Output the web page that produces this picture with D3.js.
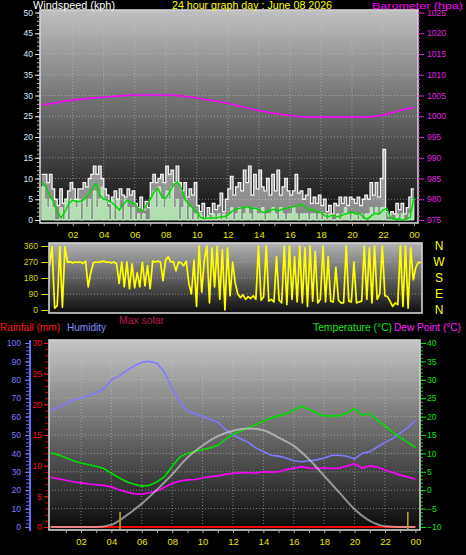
<!DOCTYPE html>
<html><head><meta charset="utf-8">
<script src="https://cdn.jsdelivr.net/npm/d3@7"></script>
<style>
html,body{margin:0;padding:0;background:#000;}
svg{display:block;font-family:"Liberation Sans",Arial,sans-serif;}
</style></head><body>
<svg id="c" width="466" height="555"></svg>
<script>
// ---------- DATA ----------
const hourTicks = [2,4,6,8,10,12,14,16,18,20,22,24];
const hourLabels = ["02","04","06","08","10","12","14","16","18","20","22","00"];
const windTicks = [0,5,10,15,20,25,30,35,40,45,50];
const baroTicks = [975,980,985,990,995,1000,1005,1010,1015,1020,1025];
const dirTicks = [0,90,180,270,360];
const compassLabels = ["N","E","S","W","N"];
const humTicks = [0,10,20,30,40,50,60,70,80,90,100];
const rainTicks = [0,5,10,15,20,25,30];
const tempTicks = [-10,-5,0,5,10,15,20,25,30,35,40];

// wind gust (kph), 10-minute samples
const gust = [
 11,11,9,11,7.5,5, 3.5,7.5,4,5,7,9, 7.5,5,7.5,7.5,9,8, 10,11,13,11,13,10,
 7.5,6,4,5.5,7,5, 7.5,6,5.5,7.5,6,7, 4,3,5.5,2.5,4.5,3, 9,11,9,10,11,9,
 13,11,12,9,13,9, 7,9,5.5,7.5,6,9, 3.5,2,4,0.5,3,1.5, 4,2.5,3.5,6.5,2,5,
 7.5,10.5,6,8,9,7, 12,9,13,6,11,7.5, 12,8,7,10,6,11, 7,12,6,8,10,7,
 6,7,11,6.5,7,5, 6,7.5,4,5.5,4,6, 3.5,5,2,3.5,1.5,4, 3.5,5.5,4,5.5,3.5,5.5,
 5,4,5.5,3.5,5,6, 5,9,6,9,5.5,10, 17,2,1,2,1.5,4, 2.5,4,1.5,3,5.5,7.5
];
// wind speed (kph), 10-minute samples
const speed = [
 8,5,3,5,3,0, 0,3,0,5,0,5, 5,3,5,0,5,3, 5,0,7,3,5,8,
 5,3,0,5,0,5, 3,0,5,3,0,3, 0,1.5,0,1.5,0,0, 5,7,3,8,5,3,
 7,5,8,3,5,0, 3,5,0,3,0,1.5, 0,1.5,0,0,1,0, 1.5,0,1.5,0,1.5,0,
 1.5,3,0,1.5,3,0, 1.5,3,1.5,0,3,1.5, 1.5,3,0,1.5,1.5,3, 1.5,0,3,1.5,0,1.5,
 1.5,3,1.5,0,1.5,1.5, 1.5,0,1.5,1.5,0,1.5, 0,1.5,0,1.5,0,0, 1.5,0,1.5,3,1.5,0,
 1.5,1.5,0,1.5,0,1.5, 1.5,3,1.5,3,1.5,3, 3,0,0,0,0,1.5, 0,1.5,0,0,1.5,5
];
// average wind (kph), 15-minute samples
const avgWind = [
 9.0,8.2,6.0,4.5, 2.0,0.5,2.0,4.0, 4.8,4.4,4.5,5.0, 6.0,7.5,8.8,6.0,
 5.0,4.8,4.2,3.5, 2.4,3.6,4.8,4.2, 4.0,2.5,2.2,3.6, 5.0,6.8,7.6,5.5,
 5.2,6.8,8.5,9.2, 7.6,4.8,3.8,2.8, 2.0,0.6,0.4,0.5, 0.5,0.4,0.8,0.8,
 1.2,2.0,2.6,2.8, 3.0,3.2,2.8,2.9, 2.5,1.8,2.0,2.4, 2.6,2.2,2.6,2.8,
 3.0,3.2,3.5,3.8, 3.0,2.4,2.6,2.0, 1.8,1.0,0.8,1.2, 0.8,0.9,1.4,1.6,
 2.0,1.4,1.6,0.6, 0.2,1.0,1.6,1.4, 2.4,2.8,0.4,0.2, 0.3,0.0,0.2,0.6, 5.5
];
// barometer (hPa), hourly
const pressure = [1002.7,1003.3,1003.9,1004.3,1004.6,1004.9,1005.1,1005.1,1005.1,1004.9,1004.4,1003.8,
 1003.1,1002.2,1001.4,1000.7,1000.2,999.8,999.8,999.8,999.8,999.8,1000.3,1001.3,1002.1];
// wind direction (deg), 10-minute samples
const direction = [
 250,355,10,25,355,15, 355,268,272,265,270,268, 270,262,275,130,210,265, 270,268,272,275,268,270,
 265,270,260,150,270,130, 270,120,260,125,210,130, 270,135,250,120,275,270, 275,270,165,280,300,270,
 272,220,270,265,250,275, 150,90,280,20,360,100, 280,360,40,350,130,360, 60,340,0,350,80,270,
 150,90,70,85,60,75, 65,80,60,360,55,75, 360,50,60,45,300,55, 40,360,30,360,60,300,
 45,360,40,350,20,360, 50,330,40,60,360,45, 300,50,45,240,55,40, 40,360,50,45,270,40,
 45,50,360,60,350,40, 360,60,90,360,80,75, 50,20,40,30,360,20, 360,10,350,170,240,270, 265
];
// half-hourly
const humidity = [63,65,67,69,70,71.5,73,75,80,82,85,87.5,89.5,90,89,84,75,68,63,61.5,60,58.5,57,53,
 50,48,46,43,41,39,38.5,37.5,36,35.5,36,36.5,37.5,39,39,38.5,37,40,41,43.5,46,48,51,54,58];
const temperature = [10.2,9.6,8.8,8.0,7.4,6.9,6.5,5.9,4.6,3.4,2.3,1.6,1.1,1.3,2.3,3.7,6.5,9.0,10.0,10.5,
 11.0,11.5,12.2,13.8,15.2,16.0,17.0,17.8,18.8,19.6,20.2,20.8,21.8,22.8,22.0,21.0,20.2,20.2,20.2,21.0,
 22.2,20.4,20.9,19.0,17.5,15.8,14.3,13.0,11.6];
const dewPoint = [3.5,3.1,2.7,2.3,2.0,1.7,1.5,1.3,0.9,0.1,-0.5,-1.0,-1.1,-0.7,-0.2,0.8,1.8,2.5,2.8,2.9,
 3.3,3.7,3.9,4.3,4.6,4.7,4.8,4.6,5.0,4.9,5.0,5.6,6.0,6.4,6.0,5.9,6.1,5.9,6.0,6.6,7.2,6.0,6.6,6.3,
 5.5,4.8,4.1,3.6,3.0];
// hourly
const maxSolar = [0,0,0,0,12,63,127,203,286,377,443,494,523,536,526,486,441,368,278,187,96,33,4,0,0];
const rainfall = [0,0,0,0,0,0,0,0,0,0,0,0,0,0,0,0,0,0,0,0,0,0,0,0,0];
const markerHours = [4.57, 23.5];

// ---------- SCALES ----------
const svg = d3.select("#c");
const xTop = d3.scaleLinear([0,24],[41.7,414]);
const yWind = d3.scaleLinear([0,50],[220,12.5]);
const yBaro = d3.scaleLinear([975,1025],[220,12.5]);
const xDir = d3.scaleLinear([0,24],[49.5,421]);
const yDir = d3.scaleLinear([0,360],[310,246]);
const xBot = d3.scaleLinear([0,24],[50.6,415.4]);
const yHum = d3.scaleLinear([0,100],[527,343]);
const yRain = d3.scaleLinear([0,30],[527,343]);
const yTemp = d3.scaleLinear([-10,40],[527,343]);
const ySolar = d3.scaleLinear([0,1000],[527,343]);

// ---------- DEFS ----------
const defs = svg.append("defs");
function grad(id, c0, c1){
  const g = defs.append("linearGradient").attr("id",id).attr("x1",0).attr("y1",0).attr("x2",0).attr("y2",1);
  g.append("stop").attr("offset","0%").attr("stop-color",c0);
  g.append("stop").attr("offset","100%").attr("stop-color",c1);
}
grad("gTop","#c0c0c0","#0a0a0a");
grad("gDir","#b4b4b4","#0e0e0e");
grad("gBot","#c6c6c6","#0a0a0a");
const panels = {
  top:{x0:40,x1:418,y0:10,y1:223,g:"gTop"},
  dir:{x0:49,x1:422,y0:243,y1:313,g:"gDir"},
  bot:{x0:49,x1:420,y0:340,y1:530,g:"gBot"}
};
Object.entries(panels).forEach(([k,p])=>{
  defs.append("clipPath").attr("id","clip-"+k).append("rect")
    .attr("x",p.x0+1).attr("y",p.y0+1).attr("width",p.x1-p.x0-2).attr("height",p.y1-p.y0-2);
  svg.append("rect").attr("x",p.x0).attr("y",p.y0).attr("width",p.x1-p.x0).attr("height",p.y1-p.y0)
    .attr("fill","url(#"+p.g+")");
});

// ---------- GRIDS ----------
function hgrid(p, ys){
  svg.append("g").selectAll("line").data(ys).join("line")
    .attr("x1",p.x0).attr("x2",p.x1).attr("y1",d=>d).attr("y2",d=>d)
    .attr("stroke","#c8c8c8").attr("stroke-opacity",0.55).attr("stroke-dasharray","1,2");
}
function vgrid(p, xs){
  svg.append("g").selectAll("line").data(xs).join("line")
    .attr("y1",p.y0).attr("y2",p.y1).attr("x1",d=>d).attr("x2",d=>d)
    .attr("stroke","#c8c8c8").attr("stroke-opacity",0.55).attr("stroke-dasharray","1,2");
}
hgrid(panels.top, windTicks.slice(1,-1).map(yWind));
vgrid(panels.top, hourTicks.slice(0,-1).map(xTop));
hgrid(panels.dir, dirTicks.slice(1,-1).map(yDir));
hgrid(panels.bot, humTicks.slice(1,-1).map(yHum));
vgrid(panels.bot, hourTicks.slice(0,-1).map(xBot));

// ---------- TOP PANEL DATA ----------
const gTopData = svg.append("g").attr("clip-path","url(#clip-top)");
const tGust = d3.range(gust.length+1).map(i=>({t:i/6, v:gust[Math.min(i,gust.length-1)]}));
const tSpeed = d3.range(speed.length+1).map(i=>({t:i/6, v:speed[Math.min(i,speed.length-1)]}));
gTopData.append("path").datum(tGust)
  .attr("d", d3.area().curve(d3.curveStepAfter).x(d=>xTop(d.t)).y0(yWind(0)).y1(d=>yWind(d.v)))
  .attr("fill","#ffffff").attr("fill-opacity",0.5);
gTopData.append("path").datum(tGust)
  .attr("d", d3.line().curve(d3.curveStepAfter).x(d=>xTop(d.t)).y(d=>yWind(d.v)))
  .attr("fill","none").attr("stroke","#f4f4f4").attr("stroke-width",1.3);
gTopData.append("path").datum(tSpeed)
  .attr("d", d3.area().curve(d3.curveStepAfter).x(d=>xTop(d.t)).y0(yWind(0)).y1(d=>yWind(d.v)))
  .attr("fill","#b8ecb8").attr("fill-opacity",0.85).attr("stroke","#c8f4c8").attr("stroke-width",0.8);
gTopData.append("path").datum(avgWind)
  .attr("d", d3.line().x((d,i)=>xTop(i/4)).y(d=>yWind(d)))
  .attr("fill","none").attr("stroke","#00d800").attr("stroke-width",1.5);
gTopData.append("path").datum(pressure)
  .attr("d", d3.line().curve(d3.curveMonotoneX).x((d,i)=>xTop(i)).y(d=>yBaro(d)))
  .attr("fill","none").attr("stroke","#ff00ff").attr("stroke-width",1.5);

// ---------- DIRECTION PANEL DATA ----------
svg.append("g").attr("clip-path","url(#clip-dir)").append("path").datum(direction)
  .attr("d", d3.line().x((d,i)=>xDir(i/6)).y(d=>yDir(d)))
  .attr("fill","none").attr("stroke","#ffff00").attr("stroke-width",1.7).attr("stroke-linejoin","round");

// ---------- BOTTOM PANEL DATA ----------
const gB = svg.append("g").attr("clip-path","url(#clip-bot)");
gB.append("path").datum(humidity)
  .attr("d", d3.line().x((d,i)=>xBot(i/2)).y(d=>yHum(d)))
  .attr("fill","none").attr("stroke","#7c7cff").attr("stroke-width",1.6);
gB.append("path").datum(dewPoint)
  .attr("d", d3.line().x((d,i)=>xBot(i/2)).y(d=>yTemp(d)))
  .attr("fill","none").attr("stroke","#ff00ff").attr("stroke-width",1.6);
gB.append("path").datum(temperature)
  .attr("d", d3.line().x((d,i)=>xBot(i/2)).y(d=>yTemp(d)))
  .attr("fill","none").attr("stroke","#00dd00").attr("stroke-width",1.6);
gB.append("path").datum(rainfall)
  .attr("d", d3.line().x((d,i)=>xBot(i)).y(d=>yRain(d)))
  .attr("fill","none").attr("stroke","#ff0000").attr("stroke-width",2.2);
gB.append("path").datum(maxSolar)
  .attr("d", d3.line().curve(d3.curveMonotoneX).x((d,i)=>xBot(i)).y(d=>ySolar(d)))
  .attr("fill","none").attr("stroke","#dcdcdc").attr("stroke-opacity",0.6).attr("stroke-width",2);
gB.selectAll("line.mk").data(markerHours).join("line").attr("class","mk")
  .attr("x1",d=>xBot(d)).attr("x2",d=>xBot(d)).attr("y1",512).attr("y2",530)
  .attr("stroke","#b8a418").attr("stroke-width",1.6);

// ---------- FRAMES ----------
Object.values(panels).forEach(p=>{
  svg.append("rect").attr("x",p.x0).attr("y",p.y0).attr("width",p.x1-p.x0).attr("height",p.y1-p.y0)
    .attr("fill","none").attr("stroke","#d4d4d4").attr("stroke-width",1.6);
});

// ---------- AXES ----------
function styleAxis(g, color, size){
  g.select(".domain").remove();
  g.selectAll(".tick line").attr("stroke",color);
  g.selectAll(".tick text").attr("fill",color).attr("font-size",size);
}
const plain = d3.format("d");
// top x
styleAxis(svg.append("g").attr("transform","translate(0,223)")
  .call(d3.axisBottom(xTop).tickValues(d3.range(1,25)).tickSize(3).tickFormat("")), "#b0b0b0", 9);
styleAxis(svg.append("g").attr("transform","translate(0,223)")
  .call(d3.axisBottom(xTop).tickValues(hourTicks).tickSize(0).tickPadding(8).tickFormat((d,i)=>hourLabels[i])), "#e8e800", 9.5);
// bottom x
styleAxis(svg.append("g").attr("transform","translate(0,530)")
  .call(d3.axisBottom(xBot).tickValues(d3.range(1,25)).tickSize(3).tickFormat("")), "#b0b0b0", 9);
styleAxis(svg.append("g").attr("transform","translate(0,530)")
  .call(d3.axisBottom(xBot).tickValues(hourTicks).tickSize(0).tickPadding(8).tickFormat((d,i)=>hourLabels[i])), "#e8e800", 9.5);
// wind left
styleAxis(svg.append("g").attr("transform","translate(40,0)")
  .call(d3.axisLeft(yWind).tickValues(d3.range(0,51,1)).tickSize(3).tickFormat("")), "#b8b8b8", 8);
styleAxis(svg.append("g").attr("transform","translate(40,0)")
  .call(d3.axisLeft(yWind).tickValues(windTicks).tickSize(5).tickPadding(2).tickFormat(plain)), "#dfe8f4", 8.5);
// baro right
styleAxis(svg.append("g").attr("transform","translate(418,0)")
  .call(d3.axisRight(yBaro).tickValues(d3.range(975,1026,1)).tickSize(2).tickFormat("")), "#e020e0", 8);
styleAxis(svg.append("g").attr("transform","translate(418,0)")
  .call(d3.axisRight(yBaro).tickValues(baroTicks).tickSize(6).tickPadding(3).tickFormat(plain)), "#e020e0", 8.5);
// direction left
styleAxis(svg.append("g").attr("transform","translate(48,0)")
  .call(d3.axisLeft(yDir).tickValues(dirTicks).tickSize(7).tickPadding(3).tickFormat(plain)), "#d8d800", 8.5);
// compass letters
svg.append("g").selectAll("text").data(dirTicks).join("text")
  .attr("x",439).attr("y",d=>yDir(d)).attr("dy","0.36em").attr("text-anchor","middle")
  .attr("fill","#ffff00").attr("font-size",12).text((d,i)=>compassLabels[i]);
// humidity left
svg.append("line").attr("x1",30).attr("x2",30).attr("y1",340).attr("y2",531)
  .attr("stroke","#6a6aff").attr("stroke-width",2);
styleAxis(svg.append("g").attr("transform","translate(29,0)")
  .call(d3.axisLeft(yHum).tickValues(d3.range(0,101,2)).tickSize(3).tickFormat("")), "#6a6aff", 8);
styleAxis(svg.append("g").attr("transform","translate(29,0)")
  .call(d3.axisLeft(yHum).tickValues(humTicks).tickSize(4).tickPadding(4).tickFormat(plain)), "#7c7cff", 8.5);
// rain left
styleAxis(svg.append("g").attr("transform","translate(48,0)")
  .call(d3.axisLeft(yRain).tickValues(d3.range(0,31,1)).tickSize(3).tickFormat("")), "#e00000", 8);
styleAxis(svg.append("g").attr("transform","translate(48,0)")
  .call(d3.axisLeft(yRain).tickValues(rainTicks).tickSize(4).tickPadding(2).tickFormat(plain)), "#ff1010", 8.5);
// temp right
styleAxis(svg.append("g").attr("transform","translate(421,0)")
  .call(d3.axisRight(yTemp).tickValues(d3.range(-10,41,1)).tickSize(2).tickFormat("")), "#00cc00", 8);
styleAxis(svg.append("g").attr("transform","translate(421,0)")
  .call(d3.axisRight(yTemp).tickValues(tempTicks).tickSize(5).tickPadding(1).tickFormat(plain)), "#10e010", 8.5);

// ---------- TITLES / LEGEND ----------
const txt = (x,y,s,c,len,size)=>svg.append("text").attr("x",x).attr("y",y).attr("fill",c)
  .attr("font-size",size||11).attr("textLength",len).attr("lengthAdjust","spacingAndGlyphs").text(s);
txt(33,9,"Windspeed (kph)","#ffffff",82,10);
txt(172,9,"24 hour graph day : June 08 2026","#ffff00",160,10);
txt(372,8.5,"Barometer (hpa)","#ff00ff",91,9.5);
txt(0,331,"Rainfall (mm)","#ff1010",60,10.5);
txt(67,331,"Humidity","#8c8cff",39,10.5);
txt(119,324,"Max solar","#c0184a",45,10.5);
txt(313,331,"Temperature (°C)","#20e020",79,10.5);
txt(394,331,"Dew Point (°C)","#ff20ff",67,10.5);
</script>
</body></html>
